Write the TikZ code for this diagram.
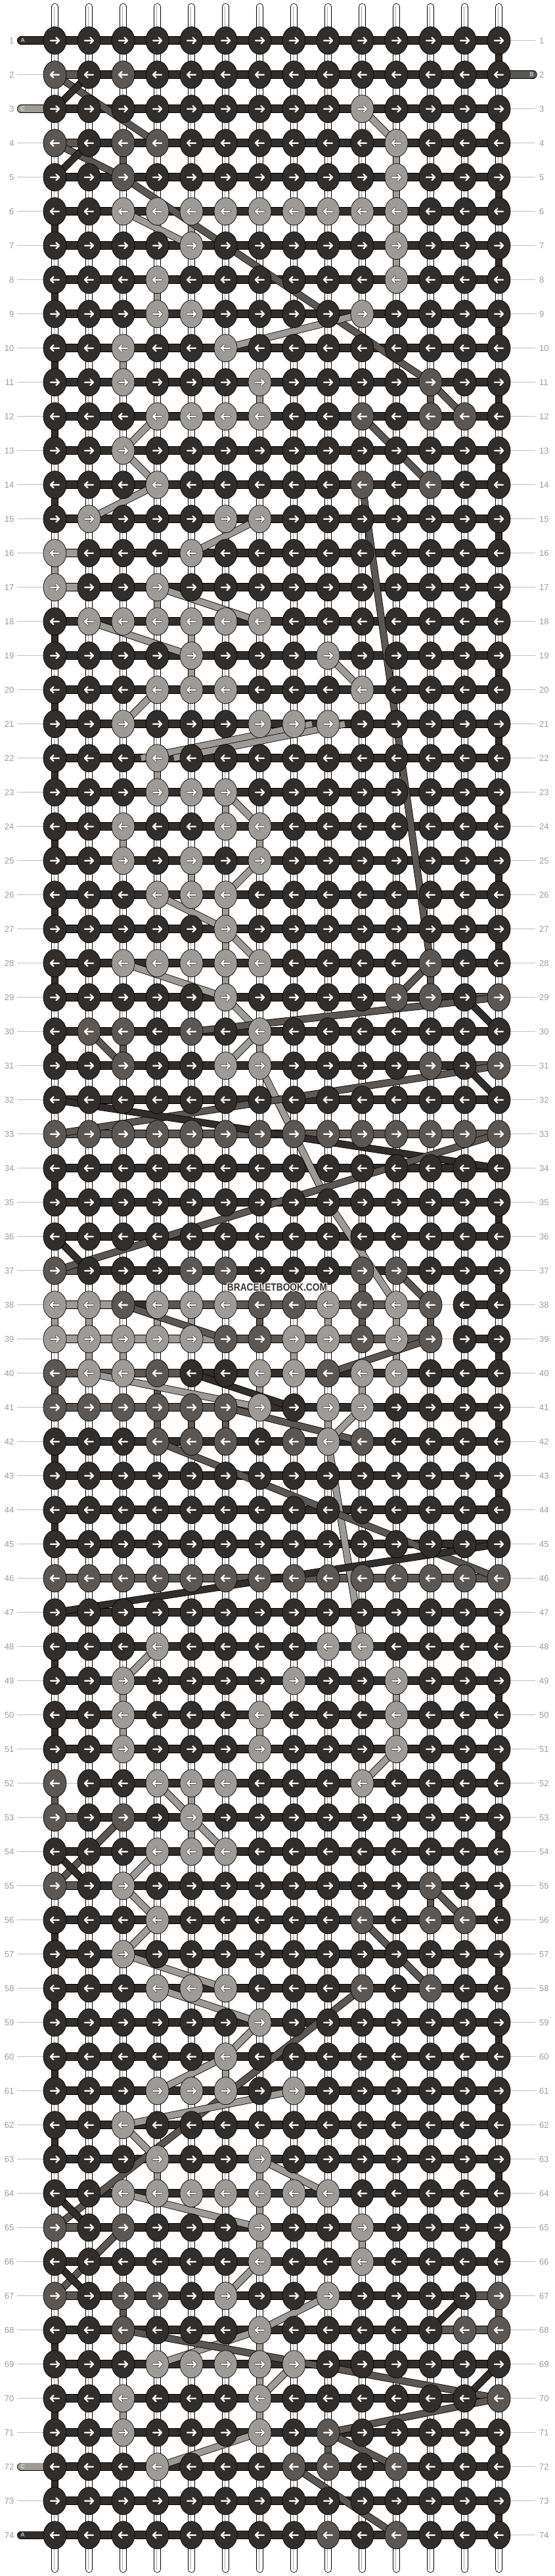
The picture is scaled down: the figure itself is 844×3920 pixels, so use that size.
\documentclass[tikz,border=0pt]{standalone}
\usepackage{fontspec}
\setmainfont{Liberation Sans}
\usetikzlibrary{shapes.geometric,calc}
\definecolor{colA}{RGB}{50,46,43}
\definecolor{colB}{RGB}{92,87,83}
\definecolor{colC}{RGB}{158,154,150}
\definecolor{lblgray}{RGB}{155,155,155}
\definecolor{lnggray}{RGB}{190,190,190}
\definecolor{wmark}{RGB}{55,52,50}

\newcount\kcol
\def\krow#1#2{\def\kcurrow{#1}\kcol=0 \kproc#2\relax}
\def\kproc#1{\ifx#1\relax\else\kstore{#1}\expandafter\kproc\fi}
\def\kstore#1{\expandafter\xdef\csname kk\kcurrow-\the\kcol\endcsname{#1}\advance\kcol by 1 }
\def\setbar#1#2#3{\expandafter\xdef\csname bb#1-#2\endcsname{#3}}
\newcommand\setbars[4]{\foreach \cc in {#2,...,#3}{\setbar{#1}{\cc}{#4}}}

\krow{1}{AAAAAAAAAAAAAA}
\krow{2}{BABAAAAAAAAAAA}
\krow{3}{AAAAAAAAACAAAA}
\krow{4}{BABBAAAAAACAAA}
\krow{5}{AABAAAAAAACAAA}
\krow{6}{AACCCCCCCCCAAA}
\krow{7}{AAAACAAAAACAAA}
\krow{8}{AAACAAAAAACAAA}
\krow{9}{AAACCAAAACAAAA}
\krow{10}{AACAACAAAAAAAA}
\krow{11}{AACAAACAAAABAA}
\krow{12}{AAACCCCAABABBA}
\krow{13}{AACAAAAAAAAAAA}
\krow{14}{AAACAAAAABABAA}
\krow{15}{ACAAACCAAAAAAA}
\krow{16}{CAAACAAAAAAAAA}
\krow{17}{CAACAAAAAAAAAA}
\krow{18}{ACCCCCCAAAAAAA}
\krow{19}{AAAACAAACAAAAA}
\krow{20}{AAACCCAAACAAAA}
\krow{21}{AACAAACCCAAAAA}
\krow{22}{AAACAAAAAAAAAA}
\krow{23}{AAACCCAAAAAAAA}
\krow{24}{AACAACCAAAAAAA}
\krow{25}{AACACACAAAAAAA}
\krow{26}{AAACCCAAAAAAAA}
\krow{27}{AAAAACAAAAAAAA}
\krow{28}{AACCCCCAAAABAA}
\krow{29}{AAAAACAAAABBAB}
\krow{30}{ABBABACAAAAAAA}
\krow{31}{AABAACCAAAABAB}
\krow{32}{AAAAAAAAAAAAAA}
\krow{33}{BBBBBBBBBBBBBB}
\krow{34}{AAAAAAAAAAAAAA}
\krow{35}{AAAAAAAAAAAAAA}
\krow{36}{AAAAAAAAAAAAAA}
\krow{37}{BAAABBAAABBAAA}
\krow{38}{CCBCCCBBCBCBAA}
\krow{39}{CCCCCBBCCBCBAA}
\krow{40}{BCCBAACCBCCAAA}
\krow{41}{BBBBBBCACCAAAA}
\krow{42}{AAABBBABCBAAAA}
\krow{43}{AAAAAAAAAAAAAA}
\krow{44}{AAAAAAAAAAAAAA}
\krow{45}{AAAAAAAAAAAAAA}
\krow{46}{BBBBBBBBBBBBBB}
\krow{47}{AAAAAAAAAAAAAA}
\krow{48}{AAACAAAACCAAAA}
\krow{49}{AACAAAACAACAAA}
\krow{50}{AACAAACAAACAAA}
\krow{51}{AACAAACAAACAAA}
\krow{52}{BAACCCAAACAAAA}
\krow{53}{BABACAAAAAAAAA}
\krow{54}{AAACCCAAAAAAAA}
\krow{55}{BACAAAAAAAABAA}
\krow{56}{AAACAAAAABABBA}
\krow{57}{AACAAAAAAAAAAA}
\krow{58}{AAACCCAAABABAA}
\krow{59}{AAAAAACAAAAAAA}
\krow{60}{AAAAACAAAAAAAA}
\krow{61}{AAACCCACAAAAAA}
\krow{62}{AACAAAAAAAAAAA}
\krow{63}{AAACAACAAAAAAA}
\krow{64}{AACCCCCCCAAAAA}
\krow{65}{BABAAACAACAAAA}
\krow{66}{AAAAAACAACAAAA}
\krow{67}{BABBACAACAAAAB}
\krow{68}{AABAAACAAAAABB}
\krow{69}{AAACCCCCAAAAAA}
\krow{70}{AACAAACAAAAAAB}
\krow{71}{AACAAACABAAAAA}
\krow{72}{AAACAAABBABAAA}
\krow{73}{AAAAAAAAAAAAAA}
\krow{74}{AAAAAAAABABAAA}

\setbar{2}{0}{B}
\setbar{4}{0}{B}
\setbar{16}{0}{C}
\setbar{17}{0}{C}
\setbar{29}{12}{B}
\setbar{31}{12}{B}
\setbars{33}{0}{12}{B}
\setbar{37}{0}{B}
\setbar{38}{0}{C}\setbar{38}{1}{C}\setbars{38}{3}{10}{B}\setbar{38}{11}{N}
\setbars{39}{0}{4}{C}\setbars{39}{5}{10}{B}\setbar{39}{11}{N}
\setbars{40}{0}{3}{B}
\setbars{41}{0}{5}{B}
\setbars{46}{0}{12}{B}
\setbar{52}{0}{N}
\setbar{53}{0}{B}
\setbar{55}{0}{B}
\setbar{65}{0}{B}
\setbar{67}{0}{B}\setbar{67}{12}{B}
\setbar{68}{11}{B}\setbar{68}{12}{B}

\tikzset{
  knot/.style={ellipse, draw=black, line width=0.7pt, minimum width=35pt, minimum height=42pt, inner sep=0pt},
  arrowin/.style={white, line width=2.2pt, line cap=round, line join=round},
  arrowout/.style={black!80, line width=3.6pt, line cap=round, line join=round},
  lbl/.style={text=lblgray, font=\fontsize{13}{13}\selectfont, inner sep=0pt},
  lblline/.style={lnggray, line width=0.9pt},
  tailtxt/.style={text=white, font=\fontsize{9}{9}\selectfont, inner sep=0pt},
  wmfont/.style={font=\bfseries\fontsize{16}{16}\selectfont, xscale=0.86, inner sep=0pt},
}
\newcommand\dg[5]{\draw[line width=11pt,black](k#2-#3)--(k#4-#5);\draw[line width=9.4pt,col#1](k#2-#3)--(k#4-#5);}
\newcommand\dgc[3]{\draw[line width=11pt,black](#2)--(#3);\draw[line width=9.4pt,col#1](#2)--(#3);}

\begin{document}
\begin{tikzpicture}[x=1pt,y=-1pt]
\useasboundingbox (0,0) rectangle (844,3920);
\fill[white] (0,0) rectangle (844,3920);
\foreach \r in {1,...,74}{\foreach \c in {0,...,13}{\coordinate (k\r-\c) at ({83.5+52*\c},{61.7+52*(\r-1)});}}
% vertical threads
\foreach \c in {0,...,13}{
  \coordinate (tt\c) at ({83.5+52*\c},10.2);
  \coordinate (tb\c) at ({83.5+52*\c},3909.8);
  \draw[line width=10.4pt, black, line cap=round] (tt\c) -- (tb\c);
  \draw[line width=8.8pt, white, line cap=round] (tt\c) -- (tb\c);
  \draw[line width=3.2pt, black!35] (tt\c) -- (tb\c);
  \draw[line width=2pt, white] (tt\c) -- (tb\c);
}
% coloured vertical segments
\foreach \r in {1,...,73}{
  \pgfmathtruncatemacro\rn{\r+1}
  \pgfmathtruncatemacro\rodd{mod(\r,2)}
  \foreach \c in {0,...,13}{
    \edef\ka{\csname kk\r-\c\endcsname}
    \edef\kb{\csname kk\rn-\c\endcsname}
    \def\vf{N}
    \ifx\ka\kb
      \if A\ka
        \ifnum\c=13 \ifnum\rodd=1 \def\vf{A}\fi\fi
        \ifnum\c=0 \ifnum\rodd=0 \def\vf{A}\fi\fi
      \else
        \let\vf\ka
      \fi
    \fi
    \if N\vf\else
      \draw[line width=10.4pt, black] (k\r-\c) -- (k\rn-\c);
      \draw[line width=8.8pt, col\vf] (k\r-\c) -- (k\rn-\c);
    \fi
  }}
% horizontal carriers
\foreach \r in {1,...,74}{\foreach \c in {0,...,12}{
  \pgfmathtruncatemacro\cn{\c+1}
  \ifcsname bb\r-\c\endcsname\edef\bx{\csname bb\r-\c\endcsname}\else\def\bx{A}\fi
  \if N\bx\else
    \draw[line width=12.6pt,black](k\r-\c)--(k\r-\cn);
    \draw[line width=11pt,col\bx](k\r-\c)--(k\r-\cn);
  \fi}}
\draw[lblline] (k38-11) -- (k38-12);
\draw[lblline] (k39-11) -- (k39-12);
\draw[lblline] (k52-0) -- (k52-1);
% diagonal threads
\dg{B}{2}{0}{4}{3}
\dg{A}{2}{1}{3}{0}
\dg{B}{4}{0}{5}{2}
\dg{A}{4}{1}{5}{0}
\dg{B}{5}{2}{9}{8}
\dg{B}{9}{8}{11}{11}
\dg{B}{11}{11}{12}{12}
\dg{C}{3}{9}{4}{10}
\dg{C}{6}{2}{7}{4}
\dg{C}{9}{9}{10}{5}
\dg{C}{12}{3}{13}{2}
\dg{B}{12}{9}{14}{11}
\dg{C}{13}{2}{14}{3}
\dg{C}{14}{3}{15}{1}
\dg{B}{14}{9}{28}{11}
\dg{C}{15}{6}{16}{4}
\dg{C}{17}{3}{18}{6}
\dg{C}{18}{1}{19}{4}
\dg{C}{19}{8}{20}{9}
\dg{C}{20}{3}{21}{2}
\coordinate (h1a) at (214.7,1153.7);
\coordinate (h1b) at (475,1101.7);
\coordinate (h2a) at (264.7,1153.7);
\coordinate (h2b) at (525,1101.7);
\dgc{C}{h1a}{h1b}
\dgc{C}{h2a}{h2b}
\dg{C}{23}{5}{24}{6}
\dg{C}{25}{6}{26}{5}
\dg{C}{26}{3}{27}{5}
\dg{C}{27}{5}{28}{6}
\dg{C}{28}{2}{29}{5}
\dg{B}{28}{11}{29}{10}
\dg{C}{29}{5}{30}{6}
\dg{B}{30}{4}{29}{13}
\dg{A}{29}{12}{30}{13}
\dg{B}{30}{1}{31}{2}
\dg{C}{30}{6}{31}{5}
\dg{C}{31}{6}{35}{8}
\dg{C}{35}{8}{38}{10}
\dg{B}{33}{0}{31}{13}
\dg{A}{31}{12}{32}{13}
\dg{A}{32}{0}{34}{13}
\dg{B}{33}{13}{37}{0}
\dg{A}{36}{0}{37}{1}
\dg{B}{37}{10}{38}{11}
\dg{B}{38}{2}{39}{5}
\dg{B}{40}{8}{39}{11}
\dg{C}{40}{1}{41}{6}
\dg{A}{40}{4}{41}{7}
\dg{B}{41}{5}{42}{9}
\dg{C}{41}{9}{42}{8}
\dg{C}{42}{8}{48}{9}
\dg{B}{42}{3}{46}{13}
\dg{A}{47}{0}{45}{13}
\dg{C}{48}{3}{49}{2}
\dg{C}{51}{10}{52}{9}
\dg{C}{52}{3}{53}{4}
\dg{C}{53}{4}{54}{5}
\dg{B}{53}{2}{55}{0}
\dg{A}{54}{0}{55}{1}
\dg{C}{54}{3}{55}{2}
\dg{C}{55}{2}{56}{3}
\dg{C}{56}{3}{57}{2}
\dg{C}{57}{2}{58}{5}
\dg{C}{58}{3}{59}{6}
\dg{C}{59}{6}{60}{5}
\dg{C}{60}{5}{61}{3}
\dg{B}{55}{11}{56}{12}
\dg{B}{56}{9}{58}{11}
\dg{B}{58}{9}{65}{0}
\dg{C}{61}{7}{62}{2}
\dg{C}{62}{2}{63}{3}
\dg{C}{63}{6}{64}{8}
\dg{C}{64}{2}{65}{6}
\dg{A}{64}{0}{65}{1}
\dg{B}{65}{2}{67}{0}
\dg{A}{66}{0}{67}{1}
\dg{C}{66}{6}{67}{5}
\dg{C}{67}{8}{68}{6}
\dg{C}{68}{6}{69}{3}
\dg{B}{68}{2}{70}{13}
\dg{A}{67}{12}{68}{11}
\dg{A}{69}{13}{70}{12}
\dg{C}{69}{7}{70}{6}
\dg{B}{70}{13}{71}{8}
\dg{C}{71}{6}{72}{3}
\dg{B}{71}{8}{72}{10}
\dg{B}{72}{7}{74}{10}
% row labels
\foreach \r in {1,...,74}{
  \coordinate (ll\r) at (21.5,{61.7+52*(\r-1)});
  \coordinate (rl\r) at (821,{61.7+52*(\r-1)});
  \node[lbl, anchor=east] (lab\r) at (ll\r) {\r};
  \node[lbl, anchor=west] (rab\r) at (rl\r) {\r};
  \coordinate (la\r) at (26,{61.7+52*(\r-1)});
  \coordinate (lb\r) at (66,{61.7+52*(\r-1)});
  \coordinate (ra\r) at (777,{61.7+52*(\r-1)});
  \coordinate (rb\r) at (815,{61.7+52*(\r-1)});
  \ifnum\r=1 \else\ifnum\r=3 \else\ifnum\r=72 \else\ifnum\r=74 \else
    \draw[lblline] (la\r) -- (lb\r);
  \fi\fi\fi\fi
  \ifnum\r=2 \else \draw[lblline] (ra\r) -- (rb\r); \fi
}
% thread tails
\coordinate (tl1) at (32.2,61.7);
\draw[line width=12.4pt,black,line cap=round] (tl1)--(k1-0);
\draw[line width=10.8pt,colA,line cap=round] (tl1)--(k1-0);
\node[tailtxt] (tx1) at (34.7,61.7) {A};
\coordinate (tl3) at (32.2,165.7);
\draw[line width=12.4pt,black,line cap=round] (tl3)--(k3-0);
\draw[line width=10.8pt,colC,line cap=round] (tl3)--(k3-0);
\node[tailtxt] (tx3) at (34.7,165.7) {C};
\coordinate (tl72) at (32.2,3753.7);
\draw[line width=12.4pt,black,line cap=round] (tl72)--(k72-0);
\draw[line width=10.8pt,colC,line cap=round] (tl72)--(k72-0);
\node[tailtxt] (tx72) at (34.7,3753.7) {C};
\coordinate (tl74) at (32.2,3857.7);
\draw[line width=12.4pt,black,line cap=round] (tl74)--(k74-0);
\draw[line width=10.8pt,colA,line cap=round] (tl74)--(k74-0);
\node[tailtxt] (tx74) at (34.7,3857.7) {A};
\coordinate (tr2) at (811.5,113.7);
\draw[line width=12.4pt,black,line cap=round] (k2-13)--(tr2);
\draw[line width=10.8pt,colB,line cap=round] (k2-13)--(tr2);
\node[tailtxt] (tx2) at (809.5,113.7) {B};
% knots
\foreach \r in {1,...,74}{
  \pgfmathtruncatemacro\dir{ifthenelse(mod(\r,2)==1,1,-1)}
  \foreach \c in {0,...,13}{
    \edef\kx{\csname kk\r-\c\endcsname}
    \node[knot, fill=col\kx] (n\r-\c) at (k\r-\c) {};
    \if C\kx
      \draw[arrowout, shift={(k\r-\c)}, xscale=\dir] (-6.5,0) -- (6.5,0) (2,-4.5) -- (6.5,0) -- (2,4.5);
    \fi
    \draw[arrowin, shift={(k\r-\c)}, xscale=\dir] (-6.5,0) -- (6.5,0) (2,-4.5) -- (6.5,0) -- (2,4.5);
  }}
% watermark
\coordinate (wm) at (422,1959);
\foreach \dx/\dy in {-1.2/0,1.2/0,0/-1.2,0/1.2,-1/-1,1/1,-1/1,1/-1}{
  \node[wmfont, text=white] at ($(wm)+(\dx,\dy)$) {BRACELETBOOK.COM};}
\node[wmfont, text=wmark] (wmtext) at (wm) {BRACELETBOOK.COM};
\end{tikzpicture}
\end{document}
